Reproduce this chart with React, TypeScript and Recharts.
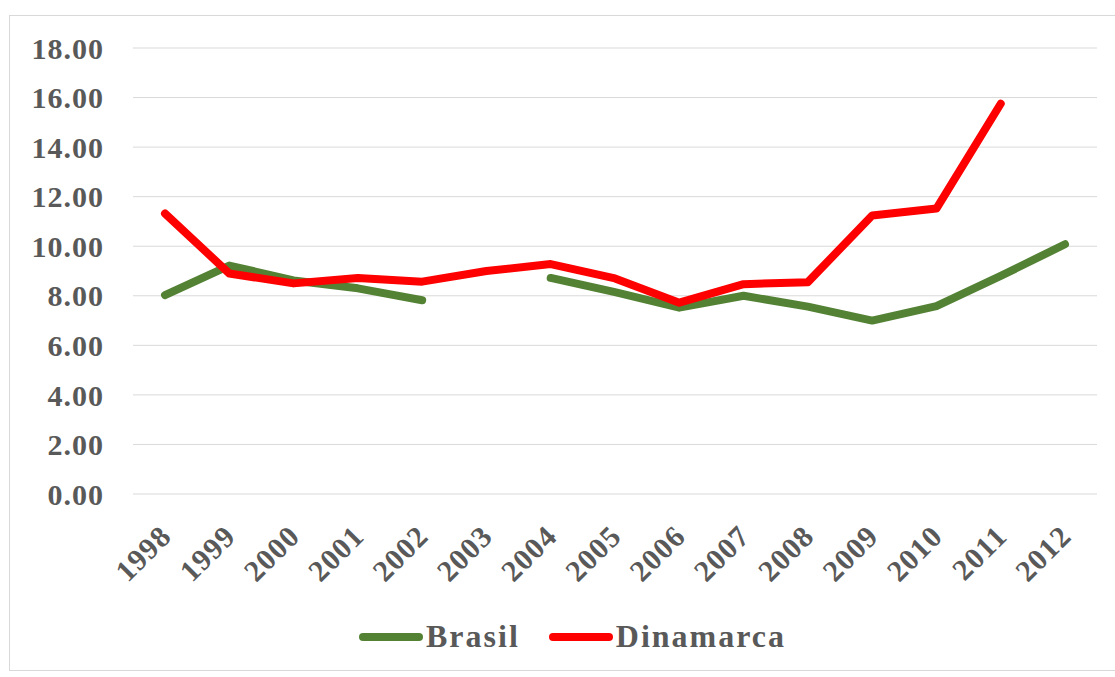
import { LineChart, Line, XAxis, YAxis, CartesianGrid } from "recharts";

const years = ["1998", "1999", "2000", "2001", "2002", "2003", "2004", "2005", "2006", "2007", "2008", "2009", "2010", "2011", "2012"];
const brasil = [8.03, 9.22, 8.62, 8.3, 7.82, null, 8.72, 8.15, 7.52, 8.0, 7.56, 7.0, 7.58, 8.8, 10.08];
const dinamarca = [11.32, 8.9, 8.5, 8.72, 8.57, 9.0, 9.28, 8.7, 7.72, 8.47, 8.55, 11.24, 11.52, 15.75, null];
const yTicks = [0, 2, 4, 6, 8, 10, 12, 14, 16, 18];

const data = years.map((year, i) => ({ year, brasil: brasil[i], dinamarca: dinamarca[i] }));

const GREEN = "#548235";
const RED = "#ff0000";
const TEXT = "#595959";
const FONT = "'Liberation Serif', 'Times New Roman', serif";

// rotated year labels, anchored by the end of the baseline
function YearTick(props: any) {
  const { x, y, payload } = props;
  const tx = x + 8;
  const ty = y + 36;
  return (
    <text
      x={tx}
      y={ty}
      textAnchor="end"
      transform={`rotate(-45 ${tx} ${ty})`}
      fill={TEXT}
      fontFamily={FONT}
      fontWeight="bold"
      fontSize={30}
      letterSpacing={1}
    >
      {payload.value}
    </text>
  );
}

function LegendItem({ color, label, gap }: { color: string; label: string; gap: number }) {
  return (
    <div style={{ display: "flex", alignItems: "center", marginRight: gap }}>
      <svg width={66} height={12}>
        <line x1={5} y1={6} x2={61} y2={6} stroke={color} strokeWidth={8} strokeLinecap="round" />
      </svg>
      <span style={{ marginLeft: 2, fontFamily: FONT, fontWeight: "bold", fontSize: 32, letterSpacing: 2, color: TEXT }}>
        {label}
      </span>
    </div>
  );
}

export default function App() {
  return (
    <div style={{ position: "absolute", left: 0, top: 0, width: 1115, height: 677, background: "#fff" }}>
      <div
        style={{
          position: "absolute",
          left: 9,
          top: 15,
          width: 1115,
          height: 656,
          border: "1px solid #d9d9d9",
          boxSizing: "border-box",
        }}
      />
      <div style={{ position: "absolute", left: 0, top: 0 }}>
        <LineChart width={1115} height={677} data={data} margin={{ top: 48, right: 18, bottom: 83, left: 0 }}>
          <CartesianGrid vertical={false} stroke="#d9d9d9" strokeWidth={1} />
          <XAxis
            dataKey="year"
            axisLine={false}
            tickLine={false}
            height={100}
            interval={0}
            padding={{ left: 32, right: 32 }}
            tick={<YearTick />}
          />
          <YAxis
            width={133}
            domain={[0, 18]}
            ticks={yTicks}
            axisLine={false}
            tickLine={false}
            tickMargin={23}
            tickFormatter={(v: number) => v.toFixed(2)}
            tick={{ fill: TEXT, fontFamily: FONT, fontWeight: "bold", fontSize: 30, letterSpacing: 1 }}
          />
          <Line
            dataKey="brasil"
            stroke={GREEN}
            strokeWidth={8}
            strokeLinecap="round"
            strokeLinejoin="round"
            dot={false}
            isAnimationActive={false}
          />
          <Line
            dataKey="dinamarca"
            stroke={RED}
            strokeWidth={8}
            strokeLinecap="round"
            strokeLinejoin="round"
            dot={false}
            isAnimationActive={false}
          />
        </LineChart>
      </div>
      <div style={{ position: "absolute", left: 358, top: 618, display: "flex" }}>
        <LegendItem color={GREEN} label="Brasil" gap={28} />
        <LegendItem color={RED} label="Dinamarca" gap={0} />
      </div>
    </div>
  );
}
